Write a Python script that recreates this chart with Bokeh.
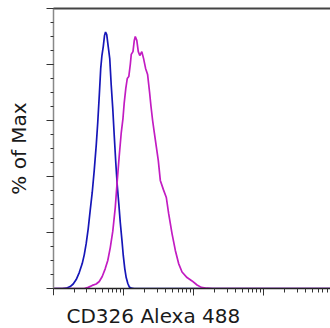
from bokeh.plotting import figure
from bokeh.models import FixedTicker, Title, Range1d, LogAxis
from bokeh.embed import file_html
from bokeh.resources import INLINE

# ---- data (fluorescence intensity, % of max) ----
blue_x = [10, 13.3, 15.2, 17.3, 19.1, 21.1, 23.3, 25.7, 27.5, 29.3, 31.3, 33.4, 35.7,
          38.1, 40.7, 42.8, 45.0, 47.2, 49.1, 51.3, 53.5, 55.3, 57.5, 60.4, 63.5,
          66.7, 70.1, 73.6, 77.4, 81.3, 85.4, 89.7, 94.9, 99.0, 104, 109, 115, 121,
          129, 142, 89750]
blue_y = [0, 0, 0.1, 0.7, 1.6, 3.2, 5.7, 8.9, 12.1, 16.1, 21.4, 27.9, 34.3,
          42.1, 51.1, 59.3, 68.9, 78.6, 83.2, 86.4, 90.4, 91.6, 90.7, 86.4, 82.1,
          72.5, 64.3, 54.6, 45.0, 36.8, 30.4, 23.6, 17.1, 11.8, 7.1, 3.9, 1.8, 0.5,
          0.1, 0, 0]

mag_x = [10, 27.5, 31.3, 35.7, 40.7, 45.0, 49.6, 54.8, 59.5, 64.6, 70.1, 76.1, 81.3,
         86.8, 92.7, 98.0, 102, 107.5, 112.9, 118.7, 124.7, 128.8, 136.2, 142.2,
         146.9, 154.4, 162.2, 170.4, 182, 193.1, 206.2, 220.3, 235.2, 246.3, 259.7,
         274.6, 293.2, 313.1, 334.4, 369.1, 407.4, 439.5, 491.4, 547.9, 610.6,
         682.9, 804.7, 948.7, 1118, 1288, 1554, 1850, 89750]
mag_y = [0, 0, 0.4, 1.1, 1.6, 2.5, 4.3, 7.1, 10.0, 14.6, 20.4, 28.9, 38.6,
         47.5, 55.7, 60.7, 66.1, 71.4, 75.0, 75.7, 80.0, 83.6, 84.6, 88.6,
         90.0, 88.6, 84.6, 83.2, 84.6, 82.1, 78.6, 76.4, 70.0, 65.0, 60.0,
         55.7, 50.7, 45.7, 38.6, 35.4, 32.5, 26.8, 19.6, 13.6, 8.9,
         5.9, 3.9, 2.7, 1.25, 0.4, 0.1, 0, 0]

x_major = [10, 100, 1000, 10000]
x_minor = [m * d for d in (10, 100, 1000, 10000) for m in range(2, 10)]
y_major = [0, 20, 40, 60, 80, 100]
y_minor = list(range(0, 101, 5))

FONT = "DejaVu Sans"

p = figure(frame_width=277, frame_height=280, x_axis_type="log",
           x_range=Range1d(10, 89750), y_range=Range1d(0, 100),
           output_backend="svg", toolbar_location=None,
           min_border_left=53, min_border_right=0, min_border_top=8, min_border_bottom=0)
p.outline_line_color = None
p.xgrid.visible = False
p.ygrid.visible = False
p.background_fill_color = "white"
p.border_fill_color = "white"

p.line(blue_x, blue_y, line_color="#1616b8", line_width=1.7)
p.line(mag_x, mag_y, line_color="#c21cc2", line_width=1.7)

xa = p.below[0]
ya = p.left[0]

# top frame line
top = LogAxis(ticker=FixedTicker(ticks=[10]), major_tick_out=0, major_tick_in=0,
              minor_tick_out=0, minor_tick_in=0, major_label_text_font_size="1px",
              major_label_text_color=None, major_label_standoff=0,
              axis_line_color="#444444", axis_line_width=2)
p.add_layout(top, "above")

xa.ticker = FixedTicker(ticks=x_major, minor_ticks=x_minor)
xa.major_tick_out = 7
xa.major_tick_in = 0
xa.minor_tick_out = 4
xa.minor_tick_in = 0
xa.major_label_text_font_size = "1px"
xa.major_label_text_color = None
xa.major_label_standoff = 0
xa.axis_line_color = "#222222"
xa.major_tick_line_color = "#333333"
xa.minor_tick_line_color = "#333333"
xa.axis_line_width = 1.5

# blank spacer below the x axis (white tick, no line) to place the label lower
spacer = LogAxis(ticker=FixedTicker(ticks=[10]), major_tick_out=6, major_tick_in=0,
                 minor_tick_out=0, minor_tick_in=0, major_label_text_font_size="1px",
                 major_label_text_color=None, major_label_standoff=0,
                 axis_line_color=None, major_tick_line_color="white")
p.add_layout(spacer, "below")

ya.ticker = FixedTicker(ticks=y_major, minor_ticks=y_minor)
ya.major_tick_out = 7
ya.major_tick_in = 0
ya.minor_tick_out = 3
ya.minor_tick_in = 0
ya.major_label_text_font_size = "1px"
ya.major_label_text_color = None
ya.major_label_standoff = 0
ya.axis_line_color = "#888888"
ya.major_tick_line_color = "#333333"
ya.minor_tick_line_color = "#333333"
ya.axis_line_width = 1.5
ya.axis_label = "% of Max"
ya.axis_label_text_font = FONT
ya.axis_label_text_font_size = "20px"
ya.axis_label_text_font_style = "normal"
ya.axis_label_text_color = "#1a1a1a"
ya.axis_label_standoff = 16

p.add_layout(Title(text="CD326 Alexa 488", align="left", offset=13,
                   text_font=FONT, text_font_size="20px", text_font_style="normal",
                   text_color="#1a1a1a", standoff=0), "below")

open("out.html", "w").write(file_html(p, INLINE))
